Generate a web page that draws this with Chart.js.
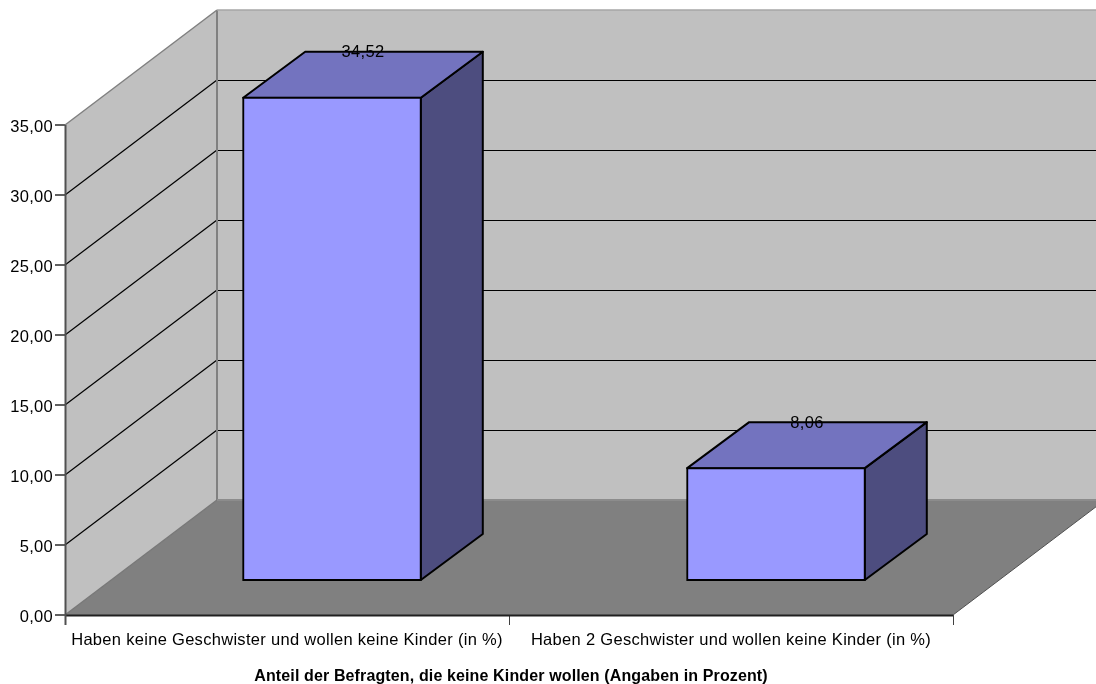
<!DOCTYPE html>
<html>
<head>
<meta charset="utf-8">
<style>
  html, body { margin: 0; padding: 0; background: #fff; }
  #wrap { width: 1096px; height: 684px; }
</style>
<script src="https://cdn.jsdelivr.net/npm/chart.js@4"></script>
</head>
<body>
<div id="wrap"><canvas id="chart" width="1096" height="684"></canvas></div>
<script>
// Data
const categories = [
  "Haben keine Geschwister und wollen keine Kinder (in %)",
  "Haben 2 Geschwister und wollen keine Kinder (in %)"
];
const shares = [34.52, 8.06];
const axisTitle = "Anteil der Befragten, die keine Kinder wollen (Angaben in Prozent)";
const yMax = 35;
const yStep = 5;

// Oblique projection: how far the back wall and the bars sit behind the axis plane
const wallDepth = { x: 152, y: -115 };
const barOffset = { x: 45, y: -34 };
const barDepth = { x: 62, y: -46 };

const FONT = "'Liberation Sans', Arial, sans-serif";
const TEXT_SIZE = 16.5;
const TEXT_TRACKING = "0.3px";
const deComma = v => v.toFixed(2).replace(".", ",");

function poly(ctx, pts, fill, stroke, width) {
  ctx.beginPath();
  pts.forEach((p, i) => i ? ctx.lineTo(p[0], p[1]) : ctx.moveTo(p[0], p[1]));
  ctx.closePath();
  if (fill) { ctx.fillStyle = fill; ctx.fill(); }
  if (stroke) { ctx.strokeStyle = stroke; ctx.lineWidth = width; ctx.lineJoin = "round"; ctx.stroke(); }
}

function line(ctx, x1, y1, x2, y2, color, width) {
  ctx.beginPath();
  ctx.moveTo(x1, y1);
  ctx.lineTo(x2, y2);
  ctx.strokeStyle = color;
  ctx.lineWidth = width;
  ctx.stroke();
}

const roomPlugin = {
  id: "room",
  // Regular labels are tracked out slightly; the bold axis title has its own tracking and offset
  beforeDraw(chart) {
    chart.ctx.letterSpacing = TEXT_TRACKING;
    const xScale = chart.scales.x;
    if (!xScale._plainTitle) {
      const drawTitle = xScale.drawTitle;
      xScale.drawTitle = function () {
        chart.ctx.save();
        chart.ctx.letterSpacing = "0.13px";
        chart.ctx.translate(2, 2);
        drawTitle.call(xScale);
        chart.ctx.restore();
      };
      xScale._plainTitle = true;
    }
  },
  // Walls, floor, gridlines and the receding bar faces
  beforeDatasetsDraw(chart) {
    const { ctx, scales: { x, y } } = chart;
    const l = x.left, r = x.right, b = y.getPixelForValue(0), t = y.getPixelForValue(yMax);
    const dx = wallDepth.x, dy = wallDepth.y;
    ctx.save();
    poly(ctx, [[l + dx, t + dy], [r + dx, t + dy], [r + dx, b + dy], [l + dx, b + dy]], "#c0c0c0");
    poly(ctx, [[l, t], [l + dx, t + dy], [l + dx, b + dy], [l, b]], "#c0c0c0");
    poly(ctx, [[l, b], [l + dx, b + dy], [r + dx, b + dy], [r, b]], "#808080");
    for (let v = yStep; v < yMax; v += yStep) {
      const py = y.getPixelForValue(v);
      line(ctx, l, py, l + dx, py + dy, "#000", 1.2);
      line(ctx, l + dx, Math.round(py + dy) + 0.5, r + dx, Math.round(py + dy) + 0.5, "#000", 1);
    }
    line(ctx, l, t, l + dx, t + dy, "#808080", 1.5);
    line(ctx, l + dx, t + dy, l + dx, b + dy, "#808080", 2);
    line(ctx, l + dx, t + dy, r + dx, t + dy, "#a6a6a6", 1.5);
    line(ctx, l, b, l + dx, b + dy, "#787878", 1.5);
    line(ctx, l + dx, b + dy, r + dx, b + dy, "#8c8c8c", 2);
    line(ctx, r, b, r + dx, b + dy, "#505050", 1);

    chart.getDatasetMeta(0).data.forEach(bar => {
      const half = bar.width / 2;
      const x0 = bar.x - half + barOffset.x, x1 = bar.x + half + barOffset.x;
      const top = bar.y + barOffset.y, base = bar.base + barOffset.y;
      const ex = barDepth.x, ey = barDepth.y;
      poly(ctx, [[x1, top], [x1 + ex, top + ey], [x1 + ex, base + ey], [x1, base]], "#4d4d7f", "#000", 2);
      poly(ctx, [[x0, top], [x0 + ex, top + ey], [x1 + ex, top + ey], [x1, top]], "#7373bf", "#000", 2);
    });
    ctx.restore();
  },
  // Front faces are the library's own bars, pushed back to their place on the floor
  beforeDatasetDraw(chart) {
    chart.ctx.save();
    chart.ctx.translate(barOffset.x, barOffset.y);
  },
  afterDatasetDraw(chart) {
    chart.ctx.restore();
  },
  // Value labels sit at the far edge of each bar's top face; both axis lines go over the room
  afterDatasetsDraw(chart) {
    const { ctx, scales: { x, y } } = chart;
    ctx.save();
    line(ctx, x.left, y.bottom + 0.5, x.right, y.bottom + 0.5, "#202020", 2);
    line(ctx, x.left + 0.5, y.top, x.left + 0.5, y.bottom + 10, "#505050", 2);
    ctx.font = TEXT_SIZE + "px " + FONT;
    ctx.fillStyle = "#000";
    ctx.textAlign = "center";
    ctx.textBaseline = "middle";
    chart.getDatasetMeta(0).data.forEach((bar, i) => {
      ctx.fillText(deComma(shares[i]), bar.x + barOffset.x + barDepth.x / 2, bar.y + barOffset.y + barDepth.y + 1);
    });
    ctx.restore();
  }
};

new Chart(document.getElementById("chart"), {
  type: "bar",
  data: {
    labels: categories,
    datasets: [{
      data: shares,
      backgroundColor: "#9999ff",
      borderColor: "#000",
      borderWidth: 2,
      borderSkipped: false,
      inflateAmount: 1,
      barPercentage: 0.4,
      categoryPercentage: 1,
      clip: false
    }]
  },
  options: {
    responsive: false,
    animation: false,
    layout: { padding: { top: 125, right: 143, left: 0, bottom: 0 } },
    plugins: { legend: { display: false }, tooltip: { enabled: false }, title: { display: false } },
    scales: {
      x: {
        afterFit(s) { s.height = 69; },
        grid: { display: true, drawOnChartArea: false, drawTicks: true, tickLength: 10, color: "#404040", lineWidth: 1, offset: true },
        border: { display: false },
        ticks: { color: "#000", font: { family: FONT, size: TEXT_SIZE }, padding: 6, maxRotation: 0, autoSkip: false },
        title: {
          display: true,
          text: axisTitle,
          color: "#000",
          font: { family: FONT, size: 16, weight: "bold" },
          padding: { top: 10, bottom: 0 }
        }
      },
      y: {
        min: 0,
        max: yMax,
        afterFit(s) { s.width = 65; },
        grid: { display: true, drawOnChartArea: false, drawTicks: true, tickLength: 10, color: "#606060", lineWidth: 2 },
        border: { display: false },
        ticks: { stepSize: yStep, color: "#000", font: { family: FONT, size: TEXT_SIZE }, padding: 2, labelOffset: 2, callback: v => deComma(v) }
      }
    }
  },
  plugins: [roomPlugin]
});
</script>
</body>
</html>
